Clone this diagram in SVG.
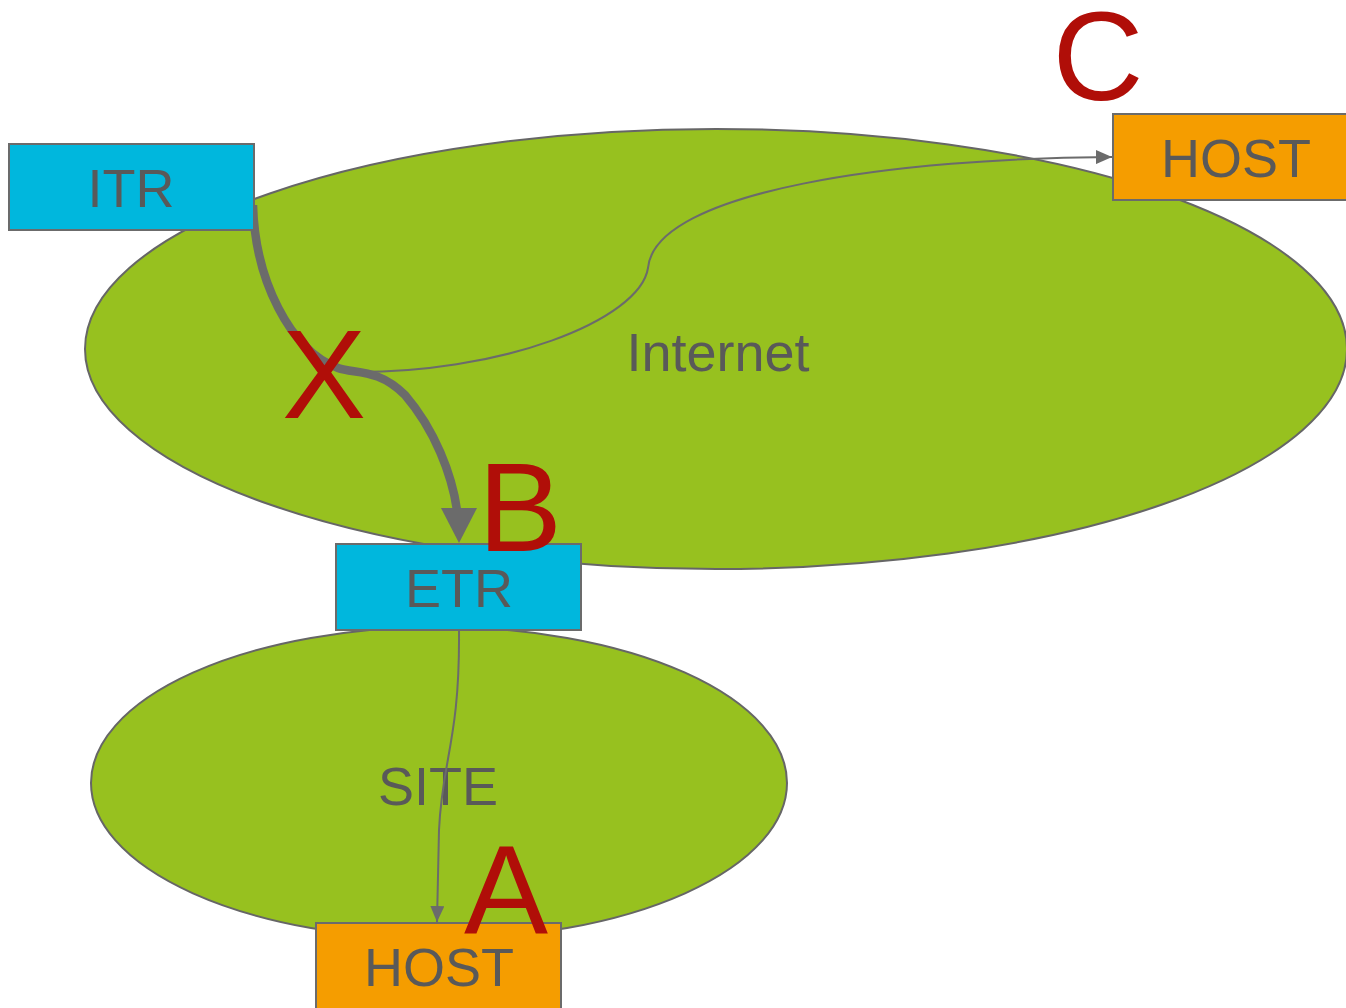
<svg xmlns="http://www.w3.org/2000/svg" width="1346" height="1008" viewBox="0 0 1346 1008">
<style>
.cloud{fill:#97C11F;stroke:#666;stroke-width:2}
.box{stroke:#6b6b6b;stroke-width:2}
.etr{fill:#00B7DD}
.host{fill:#F59D00}
.lbl{font-family:"Liberation Sans",Arial,sans-serif;font-size:54px;fill:#595959;text-anchor:middle}
.big{font-family:"Liberation Sans",Arial,sans-serif;font-size:126px;fill:#B00E08;text-anchor:middle}
.thin{fill:none;stroke:#6b6b6b;stroke-width:2}
.thick{fill:none;stroke:#6b6b6b;stroke-width:8.5}
</style>
<defs>
<marker id="ahs" markerWidth="16" markerHeight="14" refX="16" refY="7" orient="auto" markerUnits="userSpaceOnUse" viewBox="0 0 16 14">
<path d="M0,0 L16,7 L0,14 z" fill="#6b6b6b"/>
</marker>
</defs>
<g id="internet"><ellipse class="cloud" cx="716" cy="349" rx="631" ry="220"/><text class="lbl" x="718" y="371">Internet</text></g>
<g id="site"><ellipse class="cloud" cx="439" cy="783" rx="348" ry="156"/><text class="lbl" x="438" y="805">SITE</text></g>
<g id="connectors">
<path class="thin" d="M345,372 C500,375 640,320 648,268 C655,190 900,158 1112,157" marker-end="url(#ahs)"/>
<path class="thin" d="M459,630 C460,740 442,760 439,830 L437,922" marker-end="url(#ahs)"/>
<path class="thick" d="M253,205 C255,280 290,350 338,368 C355,374 378,368 405,395 C435,430 452,475 457,510"/>
<path d="M441,508 L477,508 L459,543 z" fill="#6b6b6b"/>
</g>
<g id="itr"><rect class="box etr" x="9" y="144" width="245" height="86"/><text class="lbl" x="131" y="207">ITR</text></g>
<g id="etr"><rect class="box etr" x="336" y="544" width="245" height="86"/><text class="lbl" x="459" y="607">ETR</text></g>
<g id="host-c"><rect class="box host" x="1113" y="114" width="240" height="86"/><text class="lbl" x="1236" y="177">HOST</text></g>
<g id="host-a"><rect class="box host" x="316" y="923" width="245" height="90"/><text class="lbl" x="439" y="986">HOST</text></g>
<text class="big" x="1098" y="100">C</text>
<text class="big" x="520" y="551">B</text>
<text class="big" x="506" y="933">A</text>
<text class="big" x="324" y="418">X</text>
</svg>
